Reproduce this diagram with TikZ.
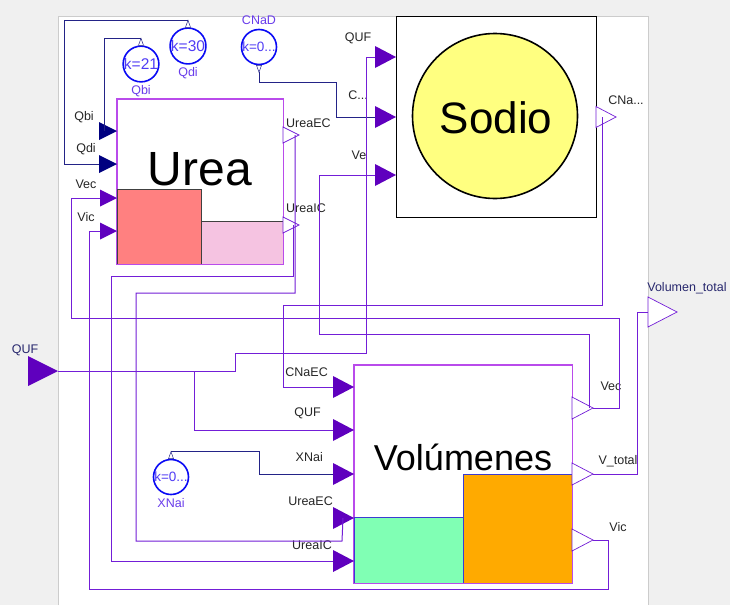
\documentclass[tikz,border=0pt]{standalone}
\usepackage{fontspec}
\setmainfont{Liberation Sans}
\usetikzlibrary{shapes.geometric,positioning}
\definecolor{wire}{RGB}{115,30,215}
\definecolor{wirenavy}{RGB}{35,35,135}
\definecolor{portfill}{RGB}{95,0,190}
\definecolor{portnavy}{RGB}{0,0,128}
\definecolor{blockedge}{RGB}{185,75,235}
\definecolor{constblue}{RGB}{10,10,245}
\definecolor{consttext}{RGB}{80,60,245}
\definecolor{constlabel}{RGB}{105,60,235}
\definecolor{toplabel}{RGB}{40,40,110}
\definecolor{canvasgray}{RGB}{240,240,240}
\definecolor{ureared}{RGB}{255,128,128}
\definecolor{ureapink}{RGB}{245,195,225}
\definecolor{volgreen}{RGB}{128,255,180}
\definecolor{volorange}{RGB}{255,170,0}
\definecolor{rectblue}{RGB}{60,60,210}
\definecolor{sodioyellow}{RGB}{255,255,128}

\begin{document}
\begin{tikzpicture}[x=1pt,y=-1pt,
    inport/.style={isosceles triangle, isosceles triangle stretches,
                   shape border rotate=0, inner sep=0pt, outer sep=0pt,
                   minimum width=22pt, minimum height=21pt, fill=portfill},
    navyport/.style={inport, fill=portnavy, minimum width=18pt, minimum height=18pt},
    outport/.style={isosceles triangle, isosceles triangle stretches,
                    shape border rotate=0, inner sep=0pt, outer sep=0pt,
                    minimum width=21pt, minimum height=20pt,
                    draw=wire, line width=0.7pt, fill=white},
    kport/.style={isosceles triangle, isosceles triangle stretches,
                  inner sep=0pt, outer sep=0pt, minimum width=5pt, minimum height=7pt,
                  draw=wirenavy, line width=0.5pt, fill=white},
    konst/.style={circle, draw=constblue, line width=1.6pt, fill=white,
                  minimum size=35pt, inner sep=0pt, text=consttext,
                  font=\fontsize{15.5}{15.5}\selectfont},
    blockbox/.style={draw=blockedge, line width=1pt, fill=white, inner sep=0pt},
    lbl/.style={font=\fontsize{12.5}{13}\selectfont, inner sep=0pt, text=black!85},
    klbl/.style={lbl, text=constlabel},
    bigtxt/.style={anchor=base, inner sep=0pt},
    wr/.style={draw=wire, line width=1pt},
    wrn/.style={draw=wirenavy, line width=1pt}
  ]
    \useasboundingbox (0,0) rectangle (730,605);
    \fill[canvasgray] (0,0) rectangle (730,605);
    \fill[white] (58,16) rectangle (648,605);
    \draw[gray!40, line width=0.8pt] (58,605) -- (58,16) -- (648,16) -- (648,605);

    % Urea
    \node[blockbox, minimum width=166pt, minimum height=165pt] (urea) at (200,181.5) {};
    \draw[fill=ureared, draw=black!75, line width=0.6pt] (117,189) rectangle (201,264);
    \draw[fill=ureapink, draw=black!75, line width=0.6pt] (201,221) rectangle (283,264);
    \draw[blockedge, line width=1pt] (urea.north west) rectangle (urea.south east);
    \node[bigtxt, font=\fontsize{48}{48}\selectfont] (ureatxt) at (200,185) {Urea};
    \node[navyport, anchor=apex] (uqbi) at (117,131) {};
    \node[navyport, anchor=apex] (uqdi) at (117,164) {};
    \node[inport, anchor=apex, minimum width=17pt, minimum height=17pt] (uvec) at (117,198) {};
    \node[inport, anchor=apex, minimum width=17pt, minimum height=17pt] (uvic) at (117,231) {};
    \node[lbl] (uqbilbl) at (84,117) {Qbi};
    \node[lbl] (uqdilbl) at (86,149) {Qdi};
    \node[lbl] (uveclbl) at (86,184) {Vec};
    \node[lbl] (uviclbl) at (86,217) {Vic};
    \node[outport, anchor=west, minimum width=16pt, minimum height=16pt] (uec) at (283,135) {};
    \node[outport, anchor=west, minimum width=16pt, minimum height=16pt] (uic) at (283,225) {};
    \node[lbl, anchor=west] (ueclbl) at (286,123) {UreaEC};
    \node[lbl, anchor=west] (uiclbl) at (286,208) {UreaIC};

    % Sodio
    \node[draw=black, line width=1pt, fill=white, inner sep=0pt,
          minimum width=200pt, minimum height=201pt] (sodio) at (496,116.5) {};
    \node[circle, draw=black, line width=1.6pt, fill=sodioyellow, inner sep=0pt,
          minimum size=165pt] (sodiocirc) at (495,116) {};
    \node[bigtxt, font=\fontsize{44}{44}\selectfont] (sodiotxt) at (496,133) {Sodio};
    \node[inport, anchor=apex] (squf) at (396,57) {};
    \node[inport, anchor=apex] (sc) at (396,117) {};
    \node[inport, anchor=apex] (sve) at (396,175) {};
    \node[lbl] (squflbl) at (358,38) {QUF};
    \node[lbl] (sclbl) at (358,95) {C...};
    \node[lbl] (svelbl) at (359,155) {Ve};
    \node[outport, anchor=west] (scna) at (596,117) {};
    \node[lbl] (scnalbl) at (626,100) {CNa...};

    % Volumenes
    \node[blockbox, minimum width=218pt, minimum height=218pt] (vol) at (463,474) {};
    \draw[fill=volgreen, draw=rectblue, line width=0.6pt] (354,517) rectangle (463,583);
    \draw[fill=volorange, draw=rectblue, line width=0.6pt] (463,474) rectangle (572,583);
    \draw[blockedge, line width=1pt] (vol.north west) rectangle (vol.south east);
    \node[bigtxt, font=\fontsize{36}{36}\selectfont] (voltxt) at (463,470) {Volúmenes};
    \node[inport, anchor=apex] (vcna) at (354,387) {};
    \node[inport, anchor=apex] (vquf) at (354,430) {};
    \node[inport, anchor=apex] (vxnai) at (354,474) {};
    \node[inport, anchor=apex] (vuec) at (354,518) {};
    \node[inport, anchor=apex] (vuic) at (354,561) {};
    \node[lbl, anchor=east] (vcnalbl) at (328,372) {CNaEC};
    \node[lbl, anchor=east] (vquflbl) at (321,413) {QUF};
    \node[lbl, anchor=east] (vxnailbl) at (323,457) {XNai};
    \node[lbl, anchor=east] (vueclbl) at (333,501) {UreaEC};
    \node[lbl, anchor=east] (vuiclbl) at (332,545) {UreaIC};
    \node[outport, anchor=west, minimum width=22pt, minimum height=21pt] (vvec) at (572,408) {};
    \node[outport, anchor=west, minimum width=22pt, minimum height=21pt] (vtot) at (572,474) {};
    \node[outport, anchor=west, minimum width=22pt, minimum height=21pt] (vvic) at (572,540) {};
    \node[lbl] (vveclbl) at (611,386) {Vec};
    \node[lbl] (vtotlbl) at (618,461) {V\_total};
    \node[lbl] (vviclbl) at (618,527) {Vic};

    % top-level connectors
    \node[inport, anchor=apex, minimum width=30pt, minimum height=30pt] (qufin) at (58,371) {};
    \node[lbl, text=toplabel] (qufinlbl) at (25,350) {QUF};
    \node[outport, anchor=west, minimum width=30pt, minimum height=29pt] (voltot) at (648,312) {};
    \node[lbl, text=toplabel] (voltotlbl) at (687,288) {Volumen\_total};

    % constants
    \node[konst] (kqbi) at (141,64) {k=21};
    \node[kport, shape border rotate=90, anchor=south] (kqbiport) at (kqbi.north) {};
    \node[klbl, below=3pt of kqbi] (kqbilbl) {Qbi};
    \node[konst] (kqdi) at (188,46) {k=30};
    \node[kport, shape border rotate=90, anchor=south] (kqdiport) at (kqdi.north) {};
    \node[klbl, below=3pt of kqdi] (kqdilbl) {Qdi};
    \node[konst, font=\fontsize{13.5}{13.5}\selectfont] (kcnad) at (259,47) {k=0...};
    \node[kport, shape border rotate=-90, anchor=north] (kcnadport) at (kcnad.south) {};
    \node[klbl, above=4pt of kcnad] (kcnadlbl) {CNaD};
    \node[konst, font=\fontsize{13.5}{13.5}\selectfont] (kxnai) at (171,477) {k=0...};
    \node[kport, shape border rotate=90, anchor=south] (kxnaiport) at (kxnai.north) {};
    \node[klbl, below=3pt of kxnai] (kxnailbl) {XNai};

    % wires
    \coordinate (qufsplit) at (194,371);
    \draw[wrn] (kqbiport.apex) -| ([xshift=5pt]uqbi.west);
    \draw[wrn] (kqdiport.apex) -| (64,164) -- (uqdi.west);
    \draw[wrn] (kcnadport.apex) |- (336,82) |- (sc.west);
    \draw[wrn] (kxnaiport.apex) -| (259,474) -- (vxnai.west);
    \draw[wr] (qufin.apex) -| (235,353) -- (366,353) |- (squf.west);
    \draw[wr] (qufsplit) |- (vquf.west);
    \draw[wr] (scna.center) |- (283,305) |- (vcna.west);
    \draw[wr] ([xshift=-4pt]vvec.apex) |- (319,334) |- (sve.west);
    \draw[wr] (vvec.apex) -| (619,318) -- (71,318) |- (uvec.west);
    \draw[wr] (vtot.apex) -| (637,312) -- (voltot.west);
    \draw[wr] (vvic.apex) -| (608,589) -| (89,231) -- (uvic.west);
    \draw[wr] ([xshift=-4pt]uec.apex) |- (136,293) |- (342,541) -- ([xshift=10pt]vuec.west);
    \draw[wr] ([xshift=-6pt]uic.apex) |- (111,276) |- (vuic.west);
\end{tikzpicture}
\end{document}
